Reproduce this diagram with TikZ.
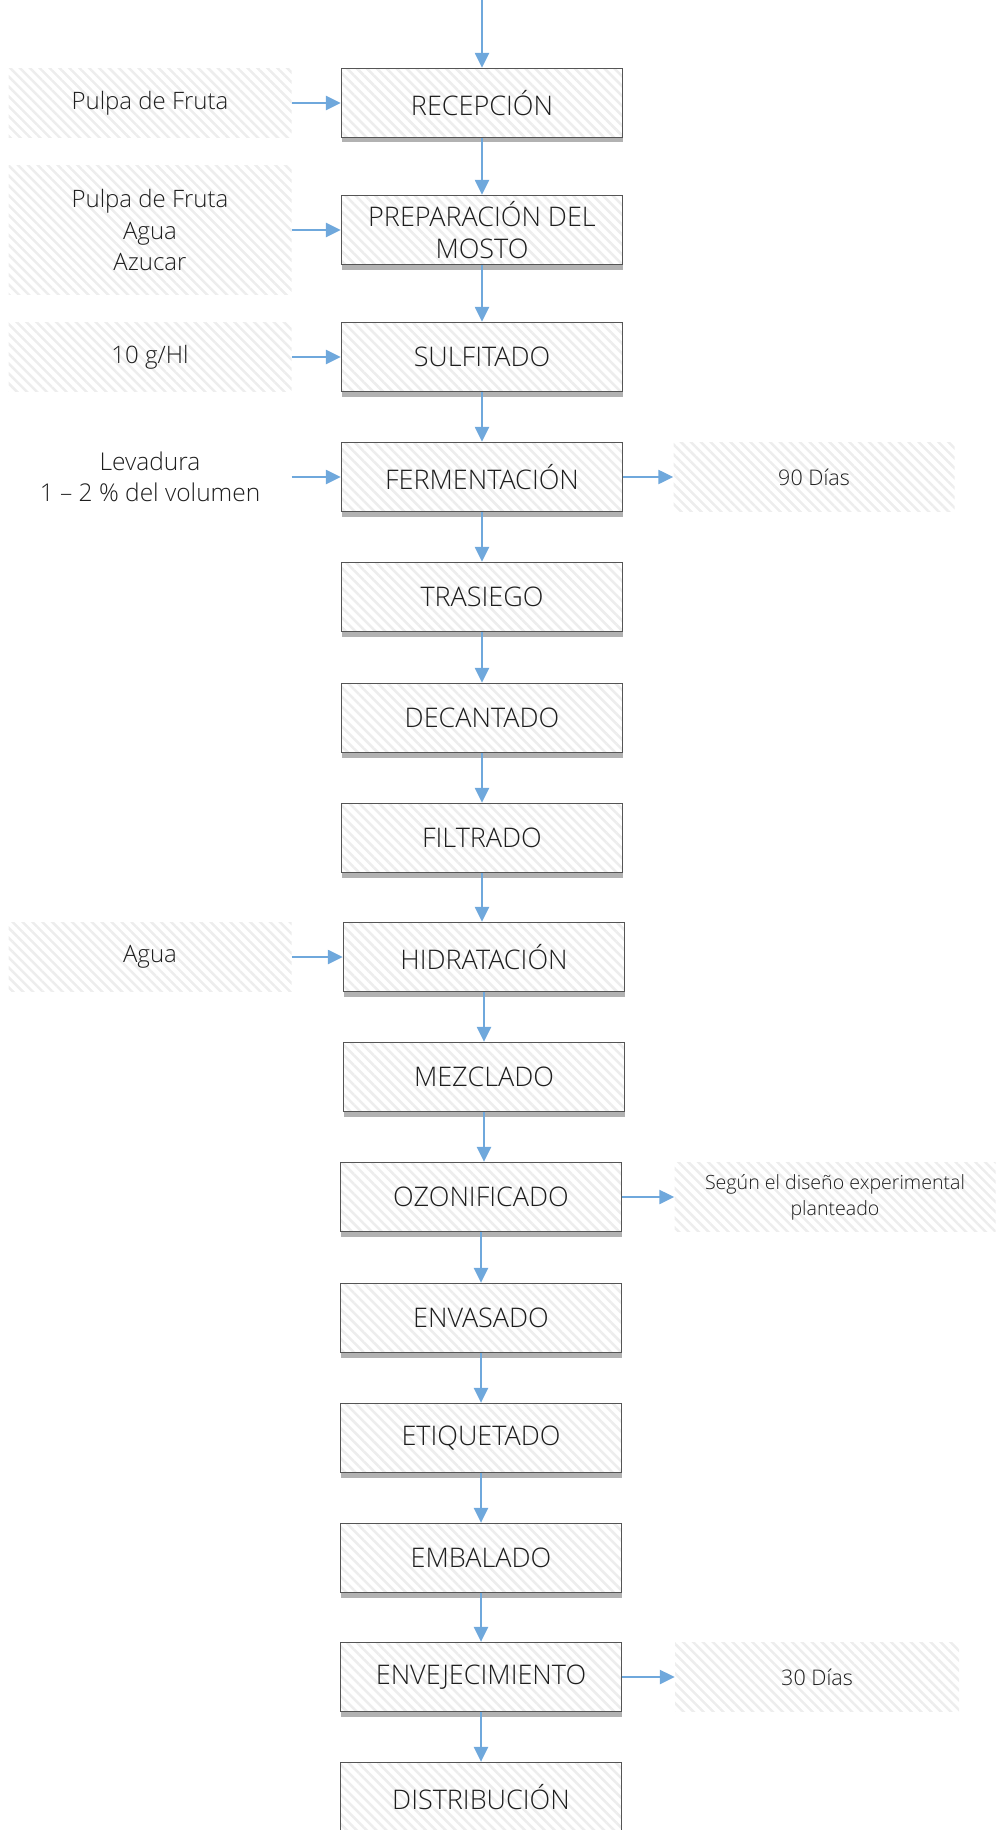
\documentclass[tikz,border=0pt]{standalone}
\usepackage{fontspec}
\IfFontExistsTF{Open Sans Light}{\setmainfont{Open Sans Light}}{\setmainfont{Open Sans}}
\usetikzlibrary{arrows.meta,patterns.meta,shadows}
\definecolor{arrowblue}{HTML}{6FA8DC}
\definecolor{txt}{HTML}{1E1E1E}
\definecolor{hatch}{HTML}{EDEDED}
\definecolor{boxborder}{HTML}{555555}
\tikzset{
  hatchpre/.style={preaction={pattern={Lines[angle=-45,distance=7pt,line width=2.5pt]}, pattern color=hatch}},
  proc/.style={
    drop shadow={shadow xshift=0pt, shadow yshift=-5pt, fill=black!30, opacity=1},
    preaction={fill=white}, hatchpre,
    draw=boxborder, line width=1.3pt,
    minimum width=281pt, minimum height=69pt, inner sep=0pt, align=center,
    font=\fontsize{27}{32}\selectfont, text=txt},
  side/.style={hatchpre, minimum width=283pt, minimum height=69pt, inner sep=0pt,
    align=center, font=\fontsize{24}{31.5}\selectfont, text=txt},
  plain/.style={minimum width=283pt, minimum height=69pt, inner sep=0pt,
    align=center, font=\fontsize{24.5}{30.5}\selectfont, text=txt},
  note/.style={hatchpre, minimum width=281pt, minimum height=69pt, inner sep=0pt,
    align=center, font=\fontsize{21.5}{26}\selectfont, text=txt},
  arr/.style={draw=arrowblue, line width=2.3pt, -{Triangle[length=15pt,width=14pt]}}
}
\begin{document}
\begin{tikzpicture}[x=1pt,y=-1pt]
\useasboundingbox (0,0) rectangle (996,1830);
% main column
\node[proc] (rec)  at (482,103)  {RECEPCIÓN};
\node[proc] (prep) at (482,230)  {PREPARACIÓN DEL\\MOSTO};
\node[proc] (sulf) at (482,357)  {SULFITADO};
\node[proc] (ferm) at (482,477)  {FERMENTACIÓN};
\node[proc] (tras) at (482,597)  {TRASIEGO};
\node[proc] (deca) at (482,718)  {DECANTADO};
\node[proc] (filt) at (482,838)  {FILTRADO};
\node[proc] (hidr) at (484,957)  {HIDRATACIÓN};
\node[proc] (mezc) at (484,1077) {MEZCLADO};
\node[proc] (ozon) at (481,1197) {OZONIFICADO};
\node[proc] (enva) at (481,1318) {ENVASADO};
\node[proc] (etiq) at (481,1438) {ETIQUETADO};
\node[proc] (emba) at (481,1558) {EMBALADO};
\node[proc] (enve) at (481,1677) {ENVEJECIMIENTO};
\node[proc] (dist) at (481,1797) {DISTRIBUCIÓN};
% left inputs
\node[side] (in1) at (150,103) {Pulpa de Fruta};
\node[side, minimum height=128pt] (in2) at (150,230) {Pulpa de Fruta\\Agua\\Azucar};
\node[side] (in3) at (150,357) {10 g/Hl};
\node[plain] (in4) at (150,477) {Levadura\\1 – 2 \% del volumen};
\node[side] (in5) at (150,957) {Agua};
% right outputs
\node[note] (out1) at (814,477) {90 Días};
\node[note, minimum width=321pt, font=\fontsize{19.6}{26}\selectfont] (out2) at (835,1197) {Según el diseño experimental\\planteado};
\node[note, minimum width=284pt] (out3) at (817,1677) {30 Días};
% connectors
\coordinate (top) at (482,0);
\draw[arr] (top) -- (rec);
\draw[arr] (rec) -- (prep);
\draw[arr] (prep) -- (sulf);
\draw[arr] (sulf) -- (ferm);
\draw[arr] (ferm) -- (tras);
\draw[arr] (tras) -- (deca);
\draw[arr] (deca) -- (filt);
\draw[arr] (filt.south) -- (filt.south |- hidr.north);
\draw[arr] (hidr) -- (mezc);
\draw[arr] (mezc.south) -- (mezc.south |- ozon.north);
\draw[arr] (ozon) -- (enva);
\draw[arr] (enva) -- (etiq);
\draw[arr] (etiq) -- (emba);
\draw[arr] (emba) -- (enve);
\draw[arr] (enve) -- (dist);
\draw[arr] (in1) -- (rec);
\draw[arr] (in2) -- (prep);
\draw[arr] (in3) -- (sulf);
\draw[arr] (in4) -- (ferm);
\draw[arr] (in5) -- (hidr);
\draw[arr] (ferm) -- (out1);
\draw[arr] (ozon) -- (out2);
\draw[arr] (enve) -- (out3);
\end{tikzpicture}
\end{document}
